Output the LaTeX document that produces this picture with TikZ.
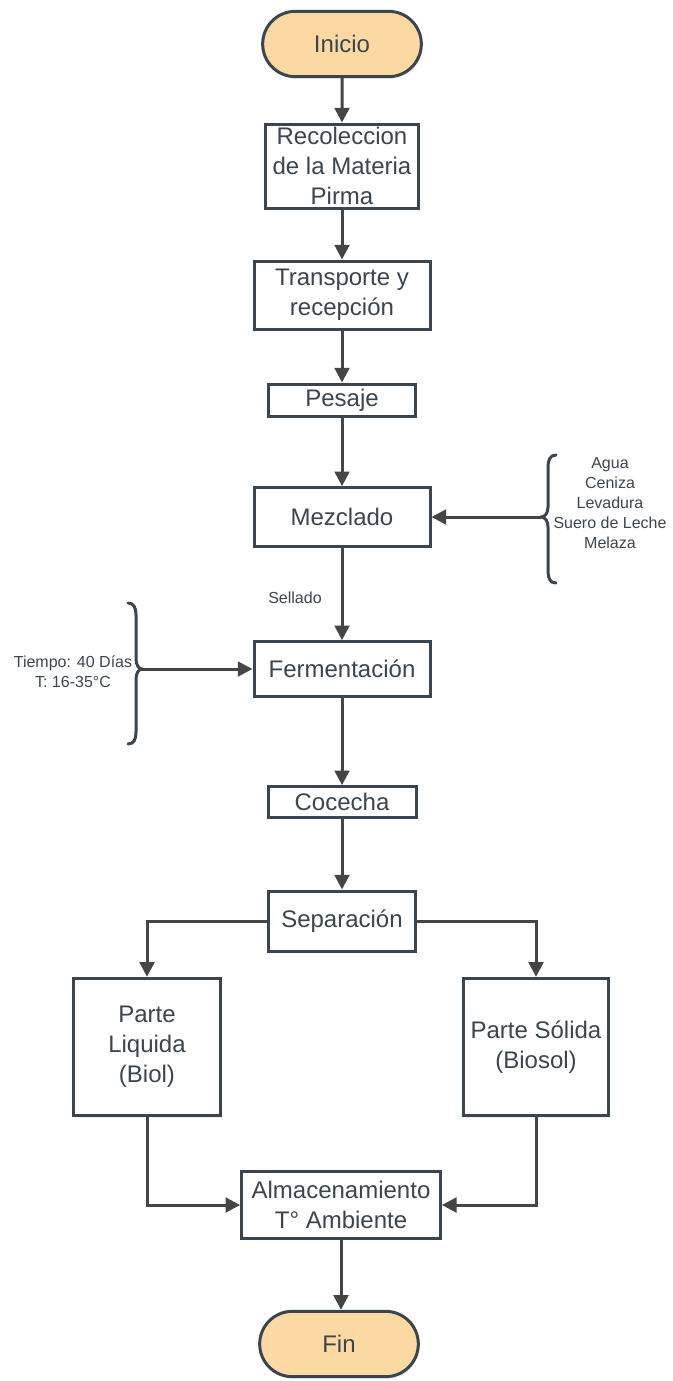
\documentclass[tikz,border=0pt]{standalone}
\usepackage{fontspec}
\setmainfont{Liberation Sans}
\usetikzlibrary{arrows.meta,shapes.misc,shadows}
\definecolor{edge}{HTML}{3B4550}
\definecolor{flowgray}{HTML}{454545}
\definecolor{startfill}{HTML}{FCD9A3}
\begin{document}
\begin{tikzpicture}[x=0.75pt,y=-0.75pt,
	every node/.style={text=edge,align=center,inner sep=0pt},
	big/.style={font=\fontsize{18}{22.5}\selectfont},
	small/.style={font=\fontsize{12}{15}\selectfont},
	terminal/.style={big,rounded rectangle,draw=edge,line width=2.25pt,fill=startfill,
		minimum width=119pt,minimum height=49pt,
		drop shadow={opacity=0.15,shadow xshift=1pt,shadow yshift=-1.5pt}},
	stepbox/.style={big,rectangle,draw=edge,line width=2.25pt,fill=white,
		drop shadow={opacity=0.15,shadow xshift=1pt,shadow yshift=-1.5pt}},
	flow/.style={draw=flowgray,line width=2.25pt,-{Triangle[length=11pt,width=11pt]}},
	bracket/.style={draw=edge,line width=2.25pt,line cap=round}]
\useasboundingbox (0,0) rectangle (673,1381);

\node[terminal] (ini) at (342,44) {Inicio};
\node[stepbox,minimum width=115pt,minimum height=63pt] (rec) at (342,166) {Recoleccion\\de la Materia\\Pirma};
\node[stepbox,minimum width=132pt,minimum height=51pt] (tra) at (342,295) {Transporte y\\recepción};
\node[stepbox,minimum width=110pt,minimum height=24pt] (pes) at (342,400) {Pesaje};
\node[stepbox,minimum width=132pt,minimum height=44pt] (mez) at (342,517) {Mezclado};
\node[stepbox,minimum width=132pt,minimum height=41pt] (fer) at (342,669) {Fermentación};
\node[stepbox,minimum width=111pt,minimum height=23pt] (coc) at (342,802) {Cocecha};
\node[stepbox,minimum width=110pt,minimum height=45pt] (sep) at (342,921) {Separación};
\node[stepbox,minimum width=110pt,minimum height=103pt] (liq) at (147,1047) {Parte\\Liquida\\(Biol)};
\node[stepbox,minimum width=109pt,minimum height=103pt] (sol) at (536,1047) {Parte Sólida\\(Biosol)};
\node[stepbox,minimum width=149pt,minimum height=50pt] (alm) at (341,1205) {Almacenamiento\\T° Ambiente};
\node[terminal] (fin) at (339,1344) {Fin};

\node[small] (sel) at (295,598) {Sellado};
\node[small] (ins) at (610,503) {Agua\\Ceniza\\Levadura\\Suero de Leche\\Melaza};
\node[small] (cond) at (73,672) {Tiempo: 40 Días\\T: 16-35°C};

% llaves
\coordinate (rb) at (541,517);
\coordinate (lb) at (142,669);
\draw[bracket] (556,455) .. controls (550,455) and (548,460) .. (548,467) -- (548,507)
	.. controls (548,513) and (545,517) .. (rb) .. controls (545,517) and (548,521) .. (548,527)
	-- (548,571) .. controls (548,578) and (550,583) .. (556,583);
\draw[bracket] (128,603) .. controls (134,603) and (136,608) .. (136,615) -- (136,659)
	.. controls (136,665) and (139,669) .. (lb) .. controls (139,669) and (136,673) .. (136,679)
	-- (136,732) .. controls (136,739) and (134,744) .. (128,744);

\draw[flow] (ini) -- (rec);
\draw[flow] (rec) -- (tra);
\draw[flow] (tra) -- (pes);
\draw[flow] (pes) -- (mez);
\draw[flow] (mez) -- (fer);
\draw[flow] (fer) -- (coc);
\draw[flow] (coc) -- (sep);
\draw[flow] (rb) -- (mez.east);
\draw[flow] (lb) -- (fer.west);
\draw[flow] (sep.west) -| (liq.north);
\draw[flow] (sep.east) -| (sol.north);
\draw[flow] (liq.south) |- (alm.west);
\draw[flow] (sol.south) |- (alm.east);
\draw[flow] (alm.south) -- (alm.south |- fin.north);
\end{tikzpicture}
\end{document}
